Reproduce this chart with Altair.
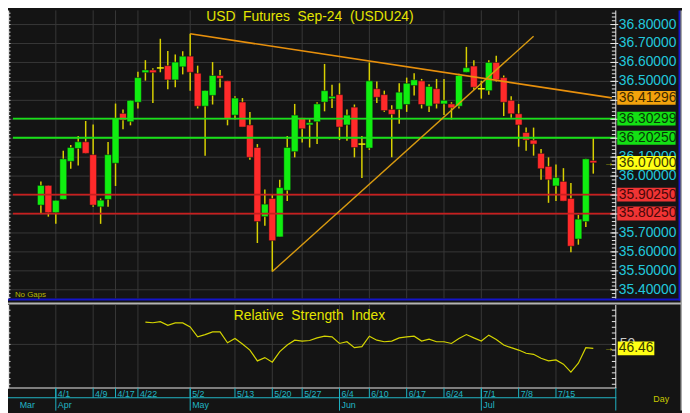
import altair as alt
import pandas as pd

FONT = "Liberation Sans"

# ---------------- data ----------------
opens = [35.847, 35.951, 35.807, 35.877, 36.078, 36.146, 36.181, 36.113, 35.838, 35.877,
         36.068, 36.331, 36.287, 36.390, 36.546, 36.560, 36.571, 36.583, 36.508, 36.577,
         36.633, 36.543, 36.369, 36.426, 36.531, 36.503, 36.322, 36.391, 36.270, 36.151,
         35.786, 35.882, 35.679, 35.925, 36.129, 36.308, 36.270, 36.287, 36.391, 36.409,
         36.430, 36.270, 36.364, 36.169, 36.148, 36.461, 36.430, 36.352, 36.352, 36.378,
         36.478, 36.503, 36.369, 36.461, 36.381, 36.381, 36.369, 36.548, 36.581, 36.461,
         36.451, 36.600, 36.520, 36.400, 36.329, 36.230, 36.190, 36.120, 36.051, 35.948,
         35.972, 35.882, 35.668, 35.760, 36.082]
highs = [35.972, 35.951, 35.872, 36.134, 36.164, 36.212, 36.291, 36.273, 35.882, 36.180,
         36.383, 36.352, 36.400, 36.551, 36.612, 36.569, 36.725, 36.661, 36.642, 36.659,
         36.751, 36.583, 36.452, 36.602, 36.560, 36.503, 36.421, 36.412, 36.339, 36.169,
         35.929, 35.903, 35.981, 36.212, 36.381, 36.308, 36.300, 36.390, 36.592, 36.482,
         36.490, 36.352, 36.378, 36.212, 36.600, 36.500, 36.451, 36.374, 36.490, 36.520,
         36.543, 36.513, 36.485, 36.513, 36.513, 36.390, 36.540, 36.682, 36.612, 36.503,
         36.612, 36.635, 36.531, 36.421, 36.381, 36.256, 36.256, 36.143, 36.099, 36.061,
         36.042, 35.963, 35.795, 36.091, 36.203]
lows = [35.805, 35.786, 35.748, 35.877, 36.039, 36.056, 36.120, 35.838, 35.748, 35.838,
        35.948, 36.248, 36.268, 36.357, 36.504, 36.386, 36.548, 36.459, 36.469, 36.537,
        36.451, 36.357, 36.108, 36.378, 36.468, 36.268, 36.299, 36.259, 36.087, 35.647,
        35.738, 35.496, 35.679, 35.868, 36.099, 36.177, 36.151, 36.169, 36.342, 36.360,
        36.190, 36.186, 36.099, 35.990, 36.139, 36.386, 36.339, 36.099, 36.276, 36.339,
        36.426, 36.357, 36.339, 36.357, 36.322, 36.299, 36.357, 36.548, 36.456, 36.409,
        36.430, 36.500, 36.317, 36.308, 36.155, 36.134, 36.108, 35.981, 35.859, 35.868,
        35.868, 35.598, 35.638, 35.731, 36.013]
closes = [35.951, 35.807, 35.872, 36.091, 36.151, 36.181, 36.120, 35.847, 35.873, 36.113,
          36.305, 36.296, 36.400, 36.520, 36.560, 36.546, 36.571, 36.508, 36.602, 36.633,
          36.548, 36.369, 36.452, 36.531, 36.516, 36.299, 36.412, 36.259, 36.099, 35.760,
          35.852, 35.659, 35.939, 36.151, 36.322, 36.250, 36.282, 36.381, 36.451, 36.421,
          36.259, 36.322, 36.151, 36.169, 36.503, 36.416, 36.346, 36.326, 36.443, 36.490,
          36.508, 36.378, 36.473, 36.381, 36.400, 36.360, 36.531, 36.572, 36.469, 36.461,
          36.600, 36.508, 36.390, 36.329, 36.270, 36.190, 36.169, 36.039, 35.981, 35.992,
          35.868, 35.630, 35.773, 36.091, 36.070]

rsi_start = 14
rsi_vals = [69.6, 69.0, 69.9, 66.7, 68.8, 68.8, 65.3, 56.6, 58.6, 61.0,
            61.0, 51.4, 55.2, 50.3, 45.0, 35.5, 38.4, 34.4, 43.6, 49.4,
            53.7, 52.9, 53.4, 55.7, 57.2, 56.6, 50.8, 52.3, 47.1, 48.0,
            57.2, 53.7, 52.3, 52.9, 55.7, 56.6, 57.2, 52.9, 54.6, 52.3,
            52.3, 50.8, 55.2, 58.6, 55.7, 53.0, 58.1, 54.3, 49.4, 47.1,
            45.0, 42.2, 41.3, 37.8, 35.5, 36.4, 32.6, 25.7, 33.5, 47.1, 46.46]

date_idx = [2, 7, 10, 13, 20, 26, 31, 35, 40, 44, 49, 54, 59, 64, 69]
date_lbl = ["4/1", "4/9", "4/17", "4/22", "5/2", "5/13", "5/20", "5/27",
            "6/4", "6/10", "6/17", "6/24", "7/1", "7/8", "7/15"]
month_idx = [-3.1, 2, 20, 40, 59]
month_lbl = ["Mar", "Apr", "May", "Jun", "Jul"]
month_sep_idx = [2, 20, 40, 59]

price_ticks = [35.4, 35.5, 35.6, 35.7, 35.8, 35.9, 36.0, 36.1, 36.2, 36.3, 36.4,
               36.5, 36.6, 36.7, 36.8]
price_lbl = ["35.40000", "35.50000", "35.60000", "35.70000", "35.80000", "35.90000",
             "36.00000", "36.10000", "36.20000", "36.30000", "36.40000", "36.50000",
             "36.60000", "36.70000", "36.80000"]
# tick labels that the level boxes cover completely
covered_lbl = ["35.80000", "35.90000", "36.20000", "36.30000"]

level_vals = [36.30299, 36.20250, 35.90250, 35.80250]
level_lbl = ["36.30299", "36.20250", "35.90250", "35.80250"]
level_kind = ["support", "support", "resist", "resist"]

down_x = [20, 76.48]
down_y = [36.751, 36.41296]
down_lbl = "36.41296"
up_x = [31, 66.0]
up_y = [35.496, 36.738]

last_price = 36.07
last_price_lbl = "36.07000"
last_rsi = 46.46
last_rsi_lbl = "46.46"
rsi_ticks = [15, 20, 25, 30, 35, 40, 45, 50, 55, 60, 65, 70, 75, 80]

# ---------------- scales ----------------
XS = alt.Scale(domain=[-3.7438, 85.2202], nice=False, zero=False)
PS = alt.Scale(domain=[34.76213, 36.87481], nice=False, zero=False)
RS = alt.Scale(domain=[-8.15, 343.18], nice=False, zero=False)


def X(f="i"):
    return alt.X(f"{f}:Q", scale=XS, axis=None)


def PY(f):
    return alt.Y(f"{f}:Q", scale=PS, axis=None)


def RY(f):
    return alt.Y(f"{f}:Q", scale=RS, axis=None)


one = pd.DataFrame({"k": [0]})


def prect(x, x2, y, y2, color):
    return alt.Chart(one).mark_rect(color=color).encode(
        x=alt.value(x), x2=alt.value(x2), y=alt.value(y), y2=alt.value(y2))


candles = pd.DataFrame({"i": list(range(len(opens))), "o": opens, "h": highs,
                        "l": lows, "c": closes})
rsi = pd.DataFrame({"i": list(range(rsi_start, rsi_start + len(rsi_vals))), "r": rsi_vals})
dates = pd.DataFrame({"i": date_idx, "t": date_lbl})
months = pd.DataFrame({"i": month_idx, "t": month_lbl})
msep = pd.DataFrame({"i": month_sep_idx})
pt = pd.DataFrame({"v": price_ticks, "t": price_lbl})
pt_vis = pt[~pt["t"].isin(covered_lbl)]
minor = pd.DataFrame({"v": [round(35.36 + 0.02 * k, 2) for k in range(76)]})
levels = pd.DataFrame({"v": level_vals, "t": level_lbl, "k": level_kind})
down = pd.DataFrame({"i": down_x, "v": down_y})
up = pd.DataFrame({"i": up_x, "v": up_y})
rt = pd.DataFrame({"r": rsi_ticks})

GRID = "#383838"
WHITE = "#e8e8e8"
CYAN = "#22c8dc"
TEAL = "#20b4c4"
YEL = "#e4e400"

layers = []
# frames
layers.append(prect(0, 680, 291.5, 293.5, "#1414c8"))
layers.append(prect(0, 682, 295.5, 297.5, "#b4b4b4"))
layers.append(prect(678.5, 680.5, 0, 293.5, "#1414c8"))
layers.append(prect(680.5, 682, 0, 405, "#a8a8a8"))

# grid
layers.append(alt.Chart(pt).mark_rule(color=GRID, strokeWidth=1).encode(
    x=alt.value(0), x2=alt.value(615), y=PY("v")))
layers.append(alt.Chart(dates).mark_rule(color=GRID, strokeWidth=1).encode(
    x=X(), y=alt.value(0), y2=alt.value(291.5)))
layers.append(alt.Chart(dates).mark_rule(color=GRID, strokeWidth=1).encode(
    x=X(), y=alt.value(298), y2=alt.value(382)))
layers.append(alt.Chart(pd.DataFrame({"r": [50]})).mark_rule(color=GRID, strokeWidth=1).encode(
    x=alt.value(0), x2=alt.value(615), y=RY("r")))

# candles
layers.append(alt.Chart(candles).mark_rule(color="#d8d000", strokeWidth=1.5).encode(
    x=X(), y=PY("l"), y2=alt.Y2("h")))
layers.append(alt.Chart(candles).transform_filter("datum.o != datum.c").mark_bar(
    width=7, stroke="#101010", strokeWidth=0.5).encode(
    x=X(), y=PY("o"), y2=alt.Y2("c"),
    color=alt.condition("datum.c > datum.o", alt.value("#10ee10"), alt.value("#ff2a2a"))))
layers.append(alt.Chart(candles).transform_filter("datum.o == datum.c").transform_calculate(
    a="datum.i - 0.46", b="datum.i + 0.46").mark_rule(color="#f0f000", strokeWidth=1.5).encode(
    x=X("a"), x2=alt.X2("b"), y=PY("o")))

# levels
lvl_color = alt.Color("k:N", scale=alt.Scale(domain=["support", "resist"],
                                             range=["#18e018", "#c81e1e"]), legend=None)
layers.append(alt.Chart(levels).mark_rule(strokeWidth=1.8).encode(
    x=alt.value(5), x2=alt.value(615), y=PY("v"), color=lvl_color))

# trendlines
layers.append(alt.Chart(down).mark_line(color="#e8900c", strokeWidth=1.6).encode(x=X(), y=PY("v")))
layers.append(alt.Chart(up).mark_line(color="#d89a10", strokeWidth=1.4).encode(x=X(), y=PY("v")))

# RSI
layers.append(alt.Chart(rsi).mark_line(color="#d4d400", strokeWidth=1.2).encode(x=X(), y=RY("r")))

# axis lines and ticks
layers.append(prect(614.5, 615.5, 0, 291.5, WHITE))
layers.append(prect(614.5, 615.5, 298, 382, WHITE))
layers.append(prect(0, 1.2, 0, 291.5, WHITE))
layers.append(prect(0, 1.2, 298, 382.5, WHITE))
layers.append(prect(0, 615.5, 381.5, 382.5, WHITE))
layers.append(alt.Chart(minor).mark_rule(color=WHITE, strokeWidth=1).encode(
    x=alt.value(611), x2=alt.value(615), y=PY("v")))
layers.append(alt.Chart(pt).mark_rule(color=WHITE, strokeWidth=1).encode(
    x=alt.value(609.5), x2=alt.value(617.5), y=PY("v")))
layers.append(alt.Chart(minor).mark_rule(color=WHITE, strokeWidth=1).encode(
    x=alt.value(0), x2=alt.value(2.5), y=PY("v")))
layers.append(alt.Chart(rt).mark_rule(color=WHITE, strokeWidth=1).encode(
    x=alt.value(611), x2=alt.value(615), y=RY("r")))
layers.append(alt.Chart(rt).mark_rule(color=WHITE, strokeWidth=1).encode(
    x=alt.value(0), x2=alt.value(2.5), y=RY("r")))

# date axis
layers.append(prect(0, 615.5, 391.5, 392.5, TEAL))
layers.append(prect(614.5, 615.5, 382, 405, TEAL))
layers.append(alt.Chart(dates).mark_rule(color=TEAL, strokeWidth=1).encode(
    x=X(), y=alt.value(382), y2=alt.value(392)))
layers.append(alt.Chart(msep).mark_rule(color=TEAL, strokeWidth=1).encode(
    x=X(), y=alt.value(382), y2=alt.value(405)))
layers.append(alt.Chart(dates).mark_text(align="left", baseline="middle", dx=2, fontSize=9,
                                         font=FONT, color=TEAL).encode(
    x=X(), y=alt.value(388), text="t:N"))
layers.append(alt.Chart(months).mark_text(align="left", baseline="middle", dx=2, fontSize=9,
                                          font=FONT, color=TEAL).encode(
    x=X(), y=alt.value(399.5), text="t:N"))

# price labels
layers.append(alt.Chart(pt_vis).mark_text(align="left", baseline="middle", fontSize=14,
                                          font=FONT, color=CYAN).encode(
    x=alt.value(618), y=PY("v"), text="t:N"))
layers.append(alt.Chart(pd.DataFrame({"r": [50], "t": ["50"]})).mark_text(
    align="left", baseline="middle", fontSize=14, font=FONT, color="#c8c8c8").encode(
    x=alt.value(619), y=RY("r"), text="t:N"))

# label boxes
box_color = alt.Color("k:N", scale=alt.Scale(
    domain=["support", "resist", "trend", "last"],
    range=["#14e014", "#f03434", "#f2a20c", "#ffff14"]), legend=None)
txt_color = alt.Color("k:N", scale=alt.Scale(
    domain=["support", "resist", "trend", "last"],
    range=["#063806", "#480808", "#3c2800", "#383800"]), legend=None)
boxes = pd.DataFrame({"v": level_vals + [down_y[1], last_price],
                      "t": level_lbl + [down_lbl, last_price_lbl],
                      "k": level_kind + ["trend", "last"]})
layers.append(alt.Chart(boxes).transform_calculate(
    a="datum.v + 0.0365", b="datum.v - 0.0365").mark_rect().encode(
    x=alt.value(616.5), x2=alt.value(675.5), y=PY("a"), y2=alt.Y2("b"), color=box_color))
layers.append(alt.Chart(boxes).mark_text(align="left", baseline="middle", fontSize=14,
                                         font=FONT).encode(
    x=alt.value(618), y=PY("v"), text="t:N", color=txt_color))

rbox = pd.DataFrame({"r": [last_rsi], "t": [last_rsi_lbl]})
layers.append(alt.Chart(rbox).transform_calculate(
    a="datum.r + 6.1", b="datum.r - 6.1").mark_rect(color="#ffff14").encode(
    x=alt.value(617), x2=alt.value(654), y=RY("a"), y2=alt.Y2("b")))
layers.append(alt.Chart(rbox).mark_text(align="left", baseline="middle", fontSize=14,
                                        font=FONT, color="#383800").encode(
    x=alt.value(618), y=RY("r"), text="t:N"))

# arrows
layers.append(alt.Chart(pd.DataFrame({"v": [last_price]})).mark_text(
    text="\u2192", fontSize=10, font=FONT, color=YEL, baseline="middle").encode(
    x=alt.value(608), y=PY("v")))
layers.append(alt.Chart(pd.DataFrame({"r": [last_rsi]})).mark_text(
    text="\u2192", fontSize=10, font=FONT, color=YEL, baseline="middle").encode(
    x=alt.value(608), y=RY("r")))

# titles
layers.append(alt.Chart(one).mark_text(
    text="USD\u00a0 Futures\u00a0 Sep-24\u00a0 (USDU24)", fontSize=14, font=FONT, color=YEL,
    align="center", baseline="alphabetic").encode(x=alt.value(305.5), y=alt.value(10.5)))
layers.append(alt.Chart(one).mark_text(
    text="Relative\u00a0 Strength\u00a0 Index", fontSize=14, font=FONT, color=YEL,
    align="center", baseline="alphabetic").encode(x=alt.value(305), y=alt.value(313)))
layers.append(alt.Chart(one).mark_text(
    text="No Gaps", fontSize=8, font=FONT, color="#b8b800",
    align="left", baseline="middle").encode(x=alt.value(7), y=alt.value(288)))
layers.append(alt.Chart(one).mark_text(
    text="Day", fontSize=9, font=FONT, color="#c8c800",
    align="left", baseline="middle").encode(x=alt.value(653), y=alt.value(393.5)))

chart = alt.layer(*layers).resolve_scale(y="independent", color="independent").properties(
    width=682, height=405, padding=0,
    autosize=alt.AutoSizeParams(type="none"),
    background="#141414",
).configure_view(stroke=None)

chart.save("out.html", embed_options={"renderer": "svg", "actions": False})
